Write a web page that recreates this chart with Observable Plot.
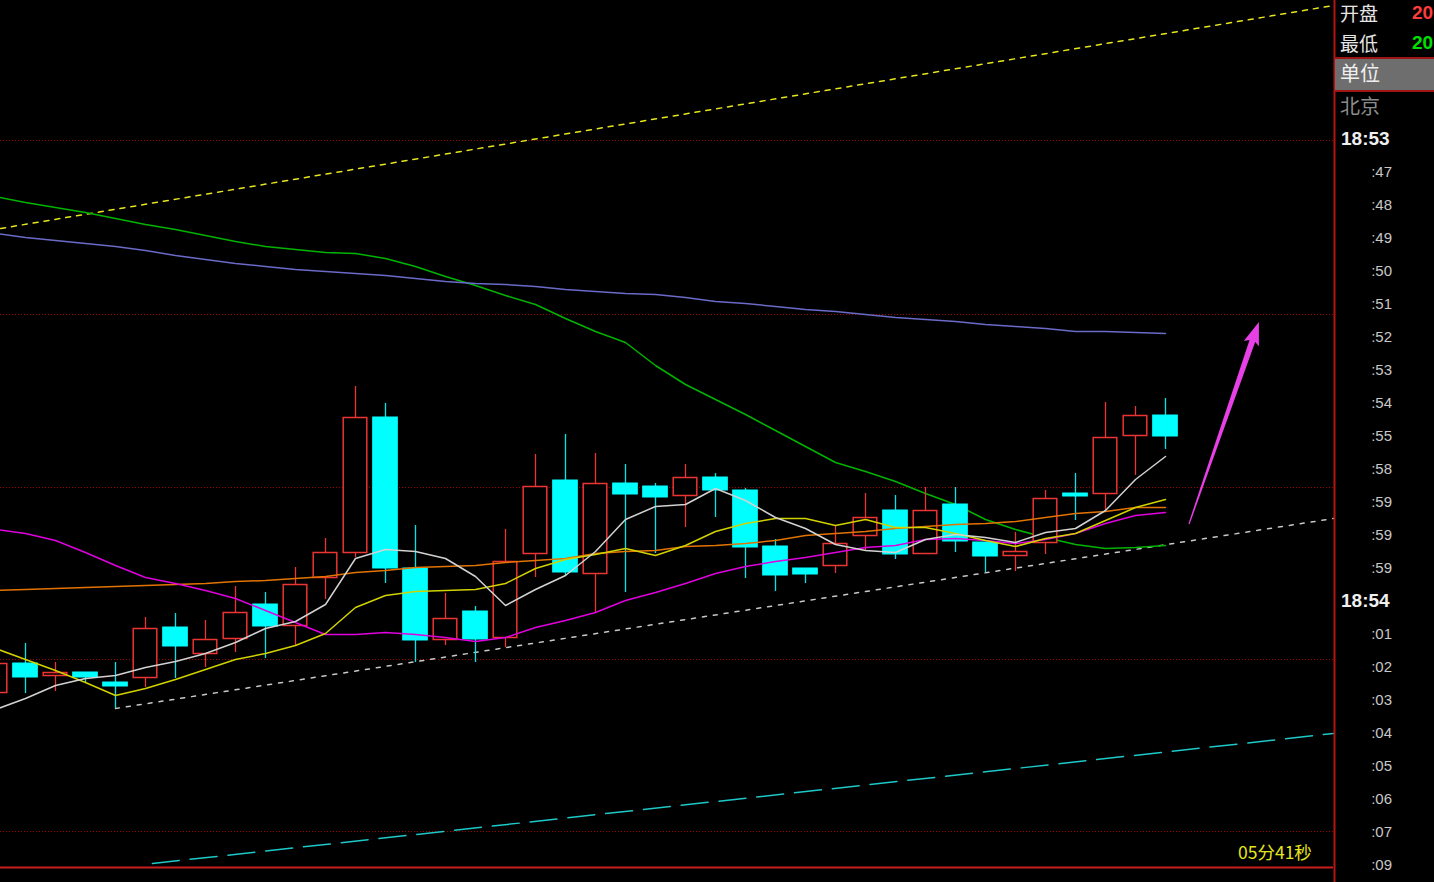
<!DOCTYPE html>
<html>
<head>
<meta charset="utf-8">
<script src="https://cdn.jsdelivr.net/npm/d3@7"></script>
<script src="https://cdn.jsdelivr.net/npm/@observablehq/plot@0.6"></script>
<style>
  html, body { margin: 0; padding: 0; background: #000; }
  #wrap { position: relative; width: 1434px; height: 882px; overflow: hidden; background: #000; }
  #wrap svg { position: absolute; left: 0; top: 0; }
  .lbl { position: absolute; white-space: nowrap; }
</style>
</head>
<body>
<div id="wrap"></div>
<script>
// ---- data (price units, index = bar number) ----
const opens  = [1980.7,1983.7,1982.4,1982.8,1981.8,1982.2,1987.3,1984.6,1986.1,1989.6,1987.4,1992.2,1994.7,2008.3,1993.2,1986.0,1988.9,1986.2,1994.6,2002.0,1992.6,2001.7,2001.4,2000.4,2002.3,2001.0,1995.4,1993.2,1993.4,1996.4,1999.0,1994.6,1999.6,1995.8,1994.4,1995.7,2000.7,2000.6,2006.4,2008.5];
const closes = [1983.7,1982.3,1982.8,1982.3,1981.4,1987.2,1985.4,1986.1,1988.8,1987.4,1991.6,1994.8,2008.3,1993.2,1986.0,1988.2,1986.1,1993.9,2001.4,1992.8,2001.7,2000.6,2000.3,2002.3,2001.0,1995.3,1992.5,1992.6,1995.7,1998.3,1994.6,1999.0,1995.9,1994.4,1994.9,2000.2,2000.4,2006.3,2008.5,2006.4];
const highs  = [1984.5,1985.7,1983.8,1982.8,1983.8,1988.3,1988.7,1988.0,1991.4,1990.8,1993.3,1996.2,2011.4,2009.7,1997.5,1990.7,1989.4,1997.1,2004.6,2006.6,2004.7,2003.6,2001.7,2003.6,2002.7,2001.2,1996.1,1993.2,1997.5,2000.7,2000.5,2001.3,2001.3,1995.8,1996.8,2001.0,2002.7,2009.8,2009.4,2010.2];
const lows   = [1980.0,1980.7,1980.9,1981.8,1979.2,1981.3,1982.2,1983.3,1984.8,1984.2,1985.4,1990.1,1994.3,1991.7,1983.8,1985.5,1983.8,1985.3,1992.3,1992.4,1988.7,1990.8,1994.7,1997.3,1998.3,1992.2,1990.9,1991.7,1992.7,1995.0,1994.1,1994.6,1994.8,1992.8,1992.9,1994.6,1998.0,1999.0,2002.5,2005.1];

const maWhite   = [1979.1,1980.2,1981.5,1982.2,1982.5,1983.3,1983.9,1984.7,1985.8,1987.2,1987.9,1989.6,1994.2,1995.1,1994.9,1994.2,1992.4,1989.5,1991.1,1992.5,1994.9,1998.1,1999.4,1999.6,2001.2,2000.0,1998.3,1997.2,1995.6,1995.0,1994.8,1996.1,1996.6,1996.3,1995.8,1996.8,1997.2,1999.0,2002.1,2004.4];
const maYellow  = [1985.2,1984.1,1983.0,1981.8,1980.5,1981.2,1982.1,1983.1,1984.1,1984.7,1985.5,1986.7,1989.3,1990.5,1990.9,1991.0,1991.1,1991.7,1993.2,1994.1,1994.6,1995.2,1994.5,1995.5,1996.9,1997.7,1998.2,1998.2,1997.5,1998.1,1997.3,1997.3,1996.7,1996.0,1995.4,1996.2,1996.7,1998.0,1999.3,2000.1];
const maOrange  = [1991.0,1991.1,1991.2,1991.3,1991.4,1991.5,1991.6,1991.7,1991.9,1992.0,1992.2,1992.4,1992.8,1993.0,1993.3,1993.4,1993.5,1993.8,1994.0,1994.2,1994.7,1994.9,1995.0,1995.4,1995.5,1995.7,1996.0,1996.5,1996.7,1996.9,1997.2,1997.4,1997.6,1997.7,1997.9,1998.3,1998.7,1998.9,1999.3,1999.3];
const maMagenta = [1997.1,1996.7,1996.0,1994.8,1993.5,1992.3,1991.7,1991.0,1990.2,1989.0,1987.8,1986.6,1986.6,1986.8,1986.6,1986.3,1985.9,1986.3,1987.3,1988.0,1988.8,1990.0,1990.8,1991.7,1992.7,1993.4,1993.9,1994.3,1994.8,1995.3,1995.5,1996.1,1996.2,1996.0,1995.7,1996.1,1996.7,1997.7,1998.5,1998.8];
const maGreen   = [2030.4,2029.8,2029.3,2028.8,2028.2,2027.6,2027.1,2026.5,2025.9,2025.4,2025.1,2024.8,2024.7,2024.2,2023.4,2022.4,2021.5,2020.5,2019.6,2018.2,2016.9,2015.8,2013.5,2011.6,2010.1,2008.6,2007.0,2005.4,2003.8,2002.9,2001.9,2000.7,1999.6,1998.1,1997.1,1996.3,1995.6,1995.2,1995.3,1995.5];
const maBlue    = [2026.7,2026.3,2026.0,2025.7,2025.4,2025.0,2024.5,2024.1,2023.7,2023.4,2023.1,2022.9,2022.7,2022.5,2022.2,2021.9,2021.7,2021.6,2021.4,2021.1,2020.9,2020.7,2020.6,2020.3,2019.9,2019.7,2019.4,2019.1,2018.9,2018.6,2018.3,2018.1,2017.9,2017.6,2017.4,2017.2,2016.9,2016.9,2016.8,2016.7];

// trend lines: [bar index, price] endpoints
const trendUpper = [[0.17, 2027.2], [44.6, 2049.5]];
const trendSupport = [[4.0, 1979.2], [44.6, 1998.2]];
const trendLower = [[5.23, 1963.7], [44.6, 1976.7]];
const arrowPts = [[39.8, 1997.6], [42.13, 2017.8]];

const gridLevels = [2036.0, 2018.6, 2001.3, 1984.1, 1966.9];
const baseLevel = 1963.3;

const panelHead = [
  {label: "开盘", value: "20", color: "#ff3c3c"},
  {label: "最低", value: "20", color: "#00e000"}
];
const timeLabels = ["18:53",":47",":48",":49",":50",":51",":52",":53",":54",":55",":58",":59",":59",":59","18:54",":01",":02",":03",":04",":05",":06",":07",":09"];
const countdown = "05分41秒";

// ---- build ----
const bars = opens.map((o, i) => ({i, o, c: closes[i], h: highs[i], l: lows[i], up: closes[i] >= o}));
const ups = bars.filter(d => d.up), downs = bars.filter(d => !d.up);
const series = (arr) => arr.map((v, i) => ({i, v}));
const seg = (pts) => pts.map(([x, y]) => ({x, y}));

const RED = "#ec3434", CYAN = "#00ffff";
const HW = 0.41;

// tapered arrow shaft: thin at the tail, wide near the head (drawn as a filled path in screen space)
function taperedArrow(ptsKey) {
  return (index, scales, values, dims) => {
    const [[ax, ay], [bx, by]] = ptsKey;
    const x1 = scales.x(ax), y1 = scales.y(ay), x2 = scales.x(bx), y2 = scales.y(by);
    const dx = x2 - x1, dy = y2 - y1, L = Math.hypot(dx, dy);
    const ux = dx / L, uy = dy / L, nx = -uy, ny = ux;
    const headL = 20, headW = 8, shaftW = 3, tailW = 0.6;
    const hx = x2 - ux * headL, hy = y2 - uy * headL;
    const p = [
      [x1 + nx * tailW, y1 + ny * tailW],
      [hx + nx * shaftW, hy + ny * shaftW],
      [hx + nx * headW - ux * 3, hy + ny * headW - uy * 3],
      [x2, y2],
      [hx - nx * headW - ux * 3, hy - ny * headW - uy * 3],
      [hx - nx * shaftW, hy - ny * shaftW],
      [x1 - nx * tailW, y1 - ny * tailW]
    ];
    const path = document.createElementNS("http://www.w3.org/2000/svg", "path");
    path.setAttribute("d", "M" + p.map(q => q.join(",")).join("L") + "Z");
    path.setAttribute("fill", "#e640e6");
    return path;
  };
}

const chart = Plot.plot({
  width: 1434, height: 882,
  marginLeft: 0, marginRight: 101, marginTop: 0, marginBottom: 0,
  style: {background: "#000", overflow: "hidden"},
  x: {type: "linear", domain: [1/6, 44.6], axis: null},
  y: {domain: [2050 - 88.2, 2050], axis: null},
  marks: [
    Plot.ruleY(gridLevels, {stroke: "#a00000", strokeWidth: 1, strokeDasharray: "1,2"}),
    Plot.ruleY([baseLevel], {stroke: "#c81e1e", strokeWidth: 2}),
    // trend lines
    Plot.line(seg(trendUpper), {x: "x", y: "y", stroke: "#e6e61e", strokeWidth: 1.5, strokeDasharray: "5,6"}),
    Plot.line(seg(trendSupport), {x: "x", y: "y", stroke: "#c8c8c8", strokeWidth: 1.5, strokeDasharray: "4,7"}),
    Plot.line(seg(trendLower), {x: "x", y: "y", stroke: "#1ec8c8", strokeWidth: 1.5, strokeDasharray: "27,11"}),
    // slow MAs
    Plot.line(series(maGreen), {x: "i", y: "v", stroke: "#00b400", strokeWidth: 1.5}),
    Plot.line(series(maBlue), {x: "i", y: "v", stroke: "#6a6ac8", strokeWidth: 1.5}),
    // wicks
    Plot.ruleX(ups, {x: "i", y1: "l", y2: "h", stroke: RED, strokeWidth: 1.3}),
    Plot.ruleX(downs, {x: "i", y1: "l", y2: "h", stroke: "#00e6e6", strokeWidth: 1.3}),
    // bodies
    Plot.rect(ups, {x1: d => d.i - HW, x2: d => d.i + HW, y1: "o", y2: "c", fill: "#000", stroke: RED, strokeWidth: 1.5, inset: 0.5}),
    Plot.rect(downs, {x1: d => d.i - HW, x2: d => d.i + HW, y1: "o", y2: "c", fill: CYAN, stroke: CYAN, strokeWidth: 1}),
    // fast MAs
    Plot.line(series(maOrange), {x: "i", y: "v", stroke: "#e27300", strokeWidth: 1.5}),
    Plot.line(series(maMagenta), {x: "i", y: "v", stroke: "#e000e0", strokeWidth: 1.5}),
    Plot.line(series(maYellow), {x: "i", y: "v", stroke: "#d2d200", strokeWidth: 1.5}),
    Plot.line(series(maWhite), {x: "i", y: "v", stroke: "#d2d2d2", strokeWidth: 1.5}),
    // arrow
    taperedArrow(arrowPts),
    // frame right edge
    Plot.ruleX([44.6], {stroke: "#b41414", strokeWidth: 2, dx: 1})
  ]
});

const wrap = document.getElementById("wrap");
wrap.appendChild(chart);

function addLabel(text, css) {
  const d = document.createElement("div");
  d.className = "lbl";
  d.textContent = text;
  Object.assign(d.style, css);
  wrap.appendChild(d);
  return d;
}

const CJK = "'Noto Sans CJK SC', sans-serif";
const NUM = "'Liberation Sans', Arial, sans-serif";

panelHead.forEach((p, k) => {
  const cy = 13 + 30 * k;
  addLabel(p.label, {left: "1340px", top: (cy - 12) + "px", fontFamily: CJK, fontSize: "19px", lineHeight: "24px", color: "#e6e6e6"});
  addLabel(p.value, {left: "1412px", top: (cy - 12) + "px", fontFamily: NUM, fontSize: "19px", lineHeight: "24px", fontWeight: "bold", color: p.color});
});

// 单位 row
const unit = document.createElement("div");
Object.assign(unit.style, {position: "absolute", left: "1335px", top: "57px", width: "99px", height: "31px",
  background: "#6e6e6e", borderTop: "2px solid #a01414", borderBottom: "2px solid #a01414"});
wrap.appendChild(unit);
addLabel("单位", {left: "1340px", top: "60px", fontFamily: CJK, fontSize: "20px", lineHeight: "26px", color: "#f0f0f0"});
addLabel("北京", {left: "1340px", top: "93px", fontFamily: CJK, fontSize: "20px", lineHeight: "26px", color: "#8c8c8c"});

timeLabels.forEach((t, k) => {
  const cy = 139 + 33 * k;
  if (t.startsWith(":")) {
    addLabel(t, {right: (1434 - 1392) + "px", top: (cy - 10) + "px", fontFamily: NUM, fontSize: "15px", lineHeight: "20px", color: "#c8c8c8"});
  } else {
    addLabel(t, {left: "1341px", top: (cy - 12) + "px", fontFamily: NUM, fontSize: "19px", lineHeight: "24px", fontWeight: "bold", color: "#f0f0f0"});
  }
});

addLabel(countdown, {left: "1238px", top: "840px", fontFamily: CJK, fontSize: "17.5px", lineHeight: "24px", color: "#e6e61e"});
</script>
</body>
</html>
